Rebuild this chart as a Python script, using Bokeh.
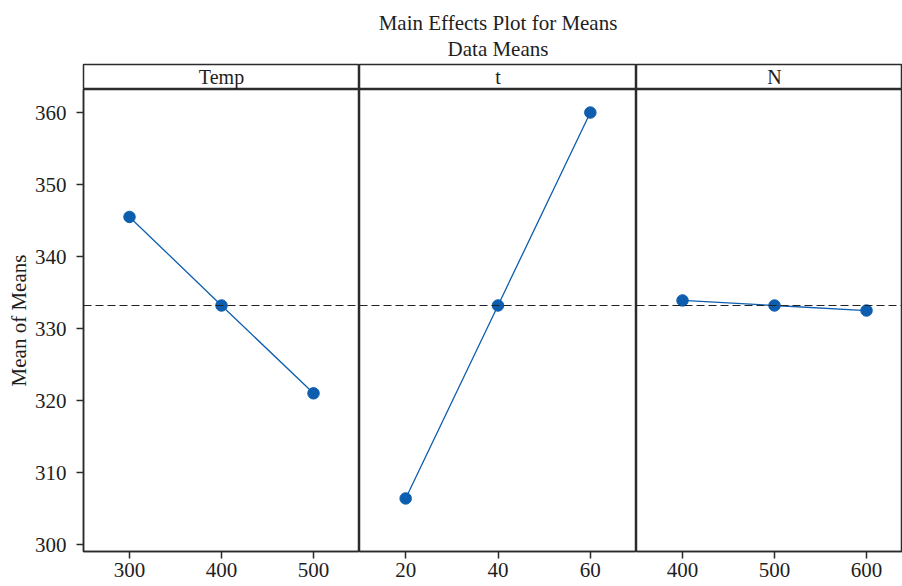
from bokeh.plotting import figure
from bokeh.layouts import column, row
from bokeh.models import Range1d, FixedTicker, Span, Label, Title
from bokeh.embed import file_html
from bokeh.resources import INLINE

# ---- data ----
factors = ["Temp", "t", "N"]
temp_levels = [300, 400, 500]
temp_means = [345.5, 333.2, 321.0]
t_levels = [20, 40, 60]
t_means = [306.4, 333.2, 360.0]
n_levels = [400, 500, 600]
n_means = [333.9, 333.2, 332.5]
grand_mean = 333.2
y_ticks = [300, 310, 320, 330, 340, 350, 360]
title_text = "Main Effects Plot for Means"
subtitle_text = "Data Means"
y_label = "Mean of Means"

FONT = "Liberation Serif"
FS = "21px"
BLUE = "#0D5EAF"
EDGE = "#2b2b2b"
TXT = "#1e1e1e"

levels = [temp_levels, t_levels, n_levels]
means = [temp_means, t_means, n_means]
x_ranges = [(250, 550), (10, 70), (350, 639.1)]
frame_widths = [276, 277, 266]

TOP = 64
HEAD_H = 25
BOTTOM = 35
TOTAL_H = 586
LEFT = 83

headers = []
mains = []
for i in range(3):
    xr = Range1d(*x_ranges[i])
    lb = LEFT if i == 0 else 0
    # header strip
    h = figure(width=frame_widths[i] + lb, height=TOP + HEAD_H,
               x_range=xr, y_range=Range1d(0, 1),
               x_axis_location=None, y_axis_location=None,
               toolbar_location=None, output_backend="svg",
               min_border_left=lb, min_border_right=0,
               min_border_top=TOP, min_border_bottom=0)
    h.grid.visible = False
    h.outline_line_color = EDGE
    h.outline_line_width = 1.5
    h.add_layout(Label(x=levels[i][1], y=0.5, text=factors[i],
                       text_align="center", text_baseline="middle",
                       text_font=FONT, text_font_size="20px", text_color=TXT))
    if i == 1:
        h.title = Title(text=title_text + "\n" + subtitle_text, align="center",
                        text_align="center", text_font=FONT, text_font_size=FS,
                        text_font_style="normal", text_color=TXT,
                        text_line_height=1.1,
                        padding=dict(top=9, bottom=3, left=0, right=0),
                        standoff=0)
    headers.append(h)

    # main panel
    p = figure(width=frame_widths[i] + lb, height=TOTAL_H - TOP - HEAD_H,
               x_range=xr, y_range=Range1d(299.03, 363.2),
               y_axis_location=("left" if i == 0 else None),
               toolbar_location=None, output_backend="svg",
               min_border_left=lb, min_border_right=0,
               min_border_top=0, min_border_bottom=BOTTOM)
    p.grid.visible = False
    p.outline_line_color = EDGE
    p.outline_line_width = 1.5
    p.add_layout(Span(location=grand_mean, dimension="width",
                      line_color="#222222", line_width=1.2, line_dash="8 4"))
    p.line(levels[i], means[i], line_color=BLUE, line_width=1.3)
    p.scatter(levels[i], means[i], size=11.5, fill_color=BLUE, line_color=BLUE)

    p.xaxis.ticker = FixedTicker(ticks=levels[i])
    p.xaxis.minor_tick_line_color = None
    p.xaxis.major_tick_in = 0
    p.xaxis.major_tick_out = 7
    p.xaxis.major_label_standoff = 4
    p.xaxis.axis_line_color = EDGE
    p.xaxis.axis_line_width = 1.5
    p.xaxis.major_tick_line_color = EDGE
    p.xaxis.major_tick_line_width = 1.5
    p.xaxis.major_label_text_font = FONT
    p.xaxis.major_label_text_font_size = FS
    p.xaxis.major_label_text_color = TXT
    if i == 0:
        p.yaxis.ticker = FixedTicker(ticks=y_ticks)
        p.yaxis.minor_tick_line_color = None
        p.yaxis.major_tick_in = 0
        p.yaxis.major_tick_out = 7
        p.yaxis.major_label_standoff = 10
        p.yaxis.axis_line_color = EDGE
        p.yaxis.axis_line_width = 1.5
        p.yaxis.major_tick_line_color = EDGE
        p.yaxis.major_tick_line_width = 1.5
        p.yaxis.major_label_text_font = FONT
        p.yaxis.major_label_text_font_size = FS
        p.yaxis.major_label_text_color = TXT
        p.yaxis.axis_label = y_label
        p.yaxis.axis_label_text_font = FONT
        p.yaxis.axis_label_text_font_size = FS
        p.yaxis.axis_label_text_font_style = "normal"
        p.yaxis.axis_label_text_color = TXT
        p.yaxis.axis_label_standoff = 1
    mains.append(p)

layout = column(row(*headers, spacing=0), row(*mains, spacing=0), spacing=0)

open("out.html", "w").write(file_html(layout, INLINE))
